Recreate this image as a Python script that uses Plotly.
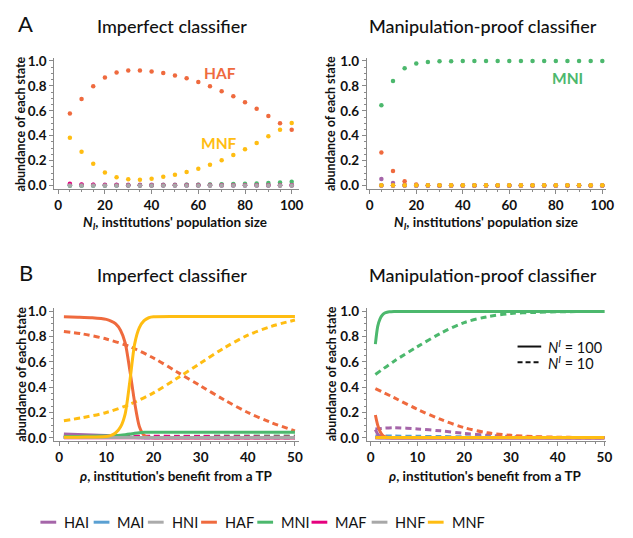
import plotly.graph_objects as go

# ---------------- data ----------------
STATES = ["HAI", "MAI", "HNI", "HAF", "MNI", "MAF", "HNF", "MNF"]
COLORS = {"HAI": "#a565a9", "MAI": "#5aa0d2", "HNI": "#ababab", "HAF": "#ef6a3e",
          "MNI": "#4cb86d", "MAF": "#e5007e", "HNF": "#a8a8a8", "MNF": "#ffbd12"}

# Panel A: institutions' population size
N_I = [5, 10, 15, 20, 25, 30, 35, 40, 45, 50, 55, 60, 65, 70, 75, 80, 85, 90, 95, 100]

A_imperfect = {
    "HAI": [0.008, 0.007, 0.006, 0.006, 0.006, 0.006, 0.006, 0.006, 0.006, 0.006, 0.006, 0.006, 0.006, 0.006, 0.006, 0.006, 0.006, 0.006, 0.006, 0.006],
    "MAI": [0.0] * 20,
    "HNI": [0.0] * 20,
    "HAF": [0.579, 0.695, 0.797, 0.868, 0.908, 0.924, 0.924, 0.916, 0.903, 0.884, 0.861, 0.832, 0.797, 0.758, 0.716, 0.668, 0.616, 0.558, 0.500, 0.447],
    "MNI": [0.001, 0.001, 0.001, 0.001, 0.002, 0.002, 0.003, 0.003, 0.004, 0.005, 0.006, 0.007, 0.008, 0.010, 0.012, 0.014, 0.017, 0.021, 0.025, 0.030],
    "MAF": [0.014, 0.009, 0.006, 0.005, 0.004, 0.003, 0.003, 0.002, 0.002, 0.002, 0.002, 0.002, 0.002, 0.002, 0.002, 0.002, 0.002, 0.002, 0.002, 0.002],
    "HNF": [0.0] * 20,
    "MNF": [0.384, 0.271, 0.174, 0.105, 0.066, 0.050, 0.047, 0.055, 0.071, 0.087, 0.108, 0.134, 0.166, 0.203, 0.245, 0.292, 0.342, 0.395, 0.447, 0.503],
}
A_proof = {
    "HAI": [0.053, 0.021, 0.006, 0.001, 0, 0, 0, 0, 0, 0, 0, 0, 0, 0, 0, 0, 0, 0, 0, 0],
    "MAI": [0.002, 0.001, 0, 0, 0, 0, 0, 0, 0, 0, 0, 0, 0, 0, 0, 0, 0, 0, 0, 0],
    "HNI": [0.001] * 20,
    "HAF": [0.266, 0.116, 0.034, 0.008, 0.002, 0, 0, 0, 0, 0, 0, 0, 0, 0, 0, 0, 0, 0, 0, 0],
    "MNI": [0.645, 0.839, 0.942, 0.979, 0.992, 0.997, 0.998, 0.999, 0.999, 0.999, 0.999, 0.999, 0.999, 0.999, 0.999, 0.999, 0.999, 0.999, 0.999, 0.999],
    "MAF": [0.001] * 20,
    "HNF": [0.001] * 20,
    "MNF": [0.002] * 20,
}

# Panel B: institution's benefit from a TP (rho)
RHO_COARSE = [1, 5, 10, 15, 20, 25, 30, 35, 40, 45, 50]
RHO_FINE_L = [1, 4, 7, 10, 11, 12, 13, 14, 15, 16, 17, 18, 19, 20, 25, 30, 35, 40, 45, 50]
RHO_FINE_R = [1, 1.5, 2, 2.5, 3, 3.5, 4, 5, 6, 8, 10, 15, 20, 30, 40, 50]

# Imperfect classifier, N^I = 100 (solid)
B_imp_solid = {
    "HAI": [0.030, 0.027, 0.023, 0.018, 0.016, 0.014, 0.012, 0.009, 0.006, 0.004, 0.002, 0.001, 0, 0, 0, 0, 0, 0, 0, 0],
    "MAI": [0.002] * 20,
    "HNI": [0.003] * 20,
    "HAF": [0.956, 0.953, 0.948, 0.935, 0.922, 0.900, 0.850, 0.750, 0.530, 0.280, 0.090, 0.020, 0.004, 0.001, 0, 0, 0, 0, 0, 0],
    "MNI": [0.010, 0.011, 0.013, 0.015, 0.016, 0.018, 0.021, 0.025, 0.030, 0.036, 0.041, 0.044, 0.045, 0.045, 0.045, 0.045, 0.045, 0.045, 0.045, 0.045],
    "MAF": [0.001] * 20,
    "HNF": [0.003] * 20,
    "MNF": [0.004, 0.005, 0.007, 0.010, 0.020, 0.040, 0.085, 0.190, 0.450, 0.740, 0.870, 0.925, 0.948, 0.955, 0.957, 0.957, 0.957, 0.957, 0.957, 0.957],
}
# Imperfect classifier, N^I = 10 (dashed)
B_imp_dash = {
    "HAI": [0.020, 0.015, 0.010, 0.006, 0.004, 0.003, 0.002, 0.001, 0.001, 0.001, 0.001],
    "MAI": [0.005, 0.004, 0.003, 0.002, 0.001, 0.001, 0.001, 0, 0, 0, 0],
    "HNI": [0.002] * 11,
    "HAF": [0.840, 0.820, 0.780, 0.720, 0.630, 0.520, 0.410, 0.300, 0.200, 0.120, 0.055],
    "MNI": [0.005, 0.006, 0.008, 0.010, 0.011, 0.012, 0.013, 0.014, 0.015, 0.015, 0.015],
    "MAF": [0.012, 0.012, 0.012, 0.012, 0.012, 0.011, 0.010, 0.009, 0.008, 0.007, 0.006],
    "HNF": [0.002] * 11,
    "MNF": [0.135, 0.160, 0.200, 0.265, 0.355, 0.470, 0.590, 0.710, 0.810, 0.880, 0.930],
}
# Manipulation-proof classifier, N^I = 100 (solid)
B_proof_solid = {
    "HAI": [0.065, 0.030, 0.012, 0.005, 0.002, 0.001, 0, 0, 0, 0, 0, 0, 0, 0, 0, 0],
    "MAI": [0.003, 0.002, 0.001, 0, 0, 0, 0, 0, 0, 0, 0, 0, 0, 0, 0, 0],
    "HNI": [0.001] * 16,
    "HAF": [0.180, 0.100, 0.050, 0.022, 0.010, 0.005, 0.002, 0, 0, 0, 0, 0, 0, 0, 0, 0],
    "MNI": [0.740, 0.880, 0.940, 0.970, 0.985, 0.992, 0.995, 0.997, 0.998, 0.998, 0.998, 0.998, 0.998, 0.998, 0.998, 0.998],
    "MAF": [0.001] * 16,
    "HNF": [0.001] * 16,
    "MNF": [0.002] * 16,
}
# Manipulation-proof classifier, N^I = 10 (dashed)
B_proof_dash = {
    "HAI": [0.070, 0.080, 0.070, 0.055, 0.035, 0.020, 0.010, 0.005, 0.002, 0.001, 0],
    "MAI": [0.015, 0.014, 0.012, 0.010, 0.008, 0.006, 0.004, 0.002, 0.001, 0, 0],
    "HNI": [0.002] * 11,
    "HAF": [0.389, 0.317, 0.225, 0.145, 0.080, 0.040, 0.020, 0.010, 0.005, 0.003, 0.002],
    "MNI": [0.500, 0.605, 0.720, 0.826, 0.910, 0.956, 0.982, 0.990, 0.995, 0.997, 0.998],
    "MAF": [0.002] * 11,
    "HNF": [0.002] * 11,
    "MNF": [0.002] * 11,
}

TITLES = ["Imperfect classifier", "Manipulation-proof classifier"]
XTITLE_A = "<i>N<sub>I</sub></i>, institutions' population size"
XTITLE_B = "<i>ρ</i>, institution's benefit from a TP"
YTITLE = "abundance of each state"

# ---------------- figure ----------------
W, H = 633, 538
FONT = "Lato"

def px(x):
    return x / W

def py(y):
    return 1 - y / H

fig = go.Figure()

# Panel A scatter dots
for axis_id, data in (("", A_imperfect), ("2", A_proof)):
    for s in STATES:
        fig.add_trace(go.Scatter(
            x=N_I, y=data[s], mode="markers", showlegend=False,
            marker=dict(color=COLORS[s], size=4.5, line=dict(width=0)),
            xaxis="x" + axis_id, yaxis="y" + axis_id))

# Panel B lines
for axis_id, solid, dash, rho_fine in (("3", B_imp_solid, B_imp_dash, RHO_FINE_L),
                                       ("4", B_proof_solid, B_proof_dash, RHO_FINE_R)):
    for s in STATES:
        fig.add_trace(go.Scatter(
            x=RHO_COARSE, y=dash[s], mode="lines", showlegend=False,
            line=dict(color=COLORS[s], width=3, dash="6px,4px", shape="spline", smoothing=0.9),
            xaxis="x" + axis_id, yaxis="y" + axis_id))
    for s in STATES:
        fig.add_trace(go.Scatter(
            x=rho_fine, y=solid[s], mode="lines", showlegend=False,
            line=dict(color=COLORS[s], width=3, shape="spline", smoothing=0.7),
            xaxis="x" + axis_id, yaxis="y" + axis_id))

AX_COLOR = "#8a8a8a"
tickfont = dict(family=FONT, size=13.5, color="#111", weight="bold")

def xax(domain, rng, dtick, minor):
    return dict(domain=domain, range=rng, showline=True, linecolor=AX_COLOR, linewidth=1,
                ticks="outside", ticklen=4, tickcolor=AX_COLOR, dtick=dtick, tick0=0,
                showgrid=False, zeroline=False, tickfont=tickfont,
                minor=dict(dtick=minor, tick0=0, ticklen=2, tickcolor=AX_COLOR, ticks="outside", showgrid=False))

def yax(domain, rng, anchor):
    return dict(domain=domain, range=rng, anchor=anchor, showline=True, linecolor=AX_COLOR, linewidth=1,
                ticks="outside", ticklen=4, tickcolor=AX_COLOR, dtick=0.2, tick0=0, tickformat=".1f",
                showgrid=False, zeroline=False, tickfont=tickfont,
                minor=dict(dtick=0.05, tick0=0, ticklen=2, tickcolor=AX_COLOR, ticks="outside", showgrid=False))

top_dom = [py(187), py(54)]
bot_dom = [py(444), py(309)]
L_dom_top = [px(54), px(302)]
R_dom_top = [px(371), px(614)]
L_dom_bot = [px(54), px(302)]
R_dom_bot = [px(371), px(614)]

fig.update_layout(
    width=W, height=H, margin=dict(l=0, r=0, t=0, b=0),
    paper_bgcolor="white", plot_bgcolor="white", showlegend=False,
    font=dict(family=FONT, color="#111"),
    xaxis=dict(**xax(L_dom_top, [-1.7, 103], 20, 5), anchor="y"),
    yaxis=yax(top_dom, [-0.024, 1.024], "x"),
    xaxis2=dict(**xax(R_dom_top, [-1.3, 101.7], 20, 5), anchor="y2"),
    yaxis2=yax(top_dom, [-0.024, 1.024], "x2"),
    xaxis3=dict(**xax(L_dom_bot, [-1.05, 50.8], 10, 2), anchor="y3"),
    yaxis3=yax(bot_dom, [-0.023, 1.023], "x3"),
    xaxis4=dict(**xax(R_dom_bot, [-0.85, 50.4], 10, 2), anchor="y4"),
    yaxis4=yax(bot_dom, [-0.023, 1.023], "x4"),
)

ann = []
def text(x, y, t, size, color="#111", weight="normal", angle=0, xanchor="center"):
    ann.append(dict(x=px(x), y=py(y), xref="paper", yref="paper", text=t, showarrow=False,
                    xanchor=xanchor, yanchor="middle", textangle=angle,
                    font=dict(family=FONT, size=size, color=color, weight=weight)))

# panel letters and titles
text(25, 19, "A", 22)
text(25, 273, "B", 22)
for y in (21, 275):
    text(173, y, TITLES[0], 18, weight=500)
    text(489, y, TITLES[1], 18, weight=500)
# axis titles
text(177, 222, XTITLE_A, 13.5, weight="bold")
text(492, 222, XTITLE_A, 13.5, weight="bold")
text(178, 480, XTITLE_B, 13.5, weight="bold")
text(491, 480, XTITLE_B, 13.5, weight="bold")
for xx in (20, 335):
    text(xx, 121, YTITLE, 12.5, weight="bold", angle=-90)
    text(xx, 376, YTITLE, 12.5, weight="bold", angle=-90)
# in-plot labels
text(222, 69, "HAF", 15.5, color=COLORS["HAF"], weight="bold")
text(221, 141, "MNF", 15.5, color=COLORS["MNF"], weight="bold")
text(575, 74, "MNI", 15.5, color=COLORS["MNI"], weight="bold")

shapes = []
# inset legend (line style)
for yy, lbl, dsh in ((348, "<i>N<sup>I</sup></i> = 100", "solid"), (364, "<i>N<sup>I</sup></i> = 10", "5px,3px")):
    shapes.append(dict(type="line", xref="paper", yref="paper", x0=px(524), x1=px(548), y0=py(yy), y1=py(yy),
                       line=dict(color="#111", width=2, dash=dsh)))
    text(553, yy, lbl, 14.5, xanchor="left")

# bottom legend (states)
LEG_X = [40, 94, 149, 203, 260, 315, 376, 433]
for s, lx in zip(STATES, LEG_X):
    shapes.append(dict(type="line", xref="paper", yref="paper", x0=px(lx), x1=px(lx + 16), y0=py(527), y1=py(527),
                       line=dict(color=COLORS[s], width=3)))
    text(lx + 22, 527, s, 14.5, xanchor="left")

fig.update_layout(annotations=ann, shapes=shapes)
fig.write_html("out.html", post_script="document.body.style.margin='0';",
               config={"displayModeBar": False})
